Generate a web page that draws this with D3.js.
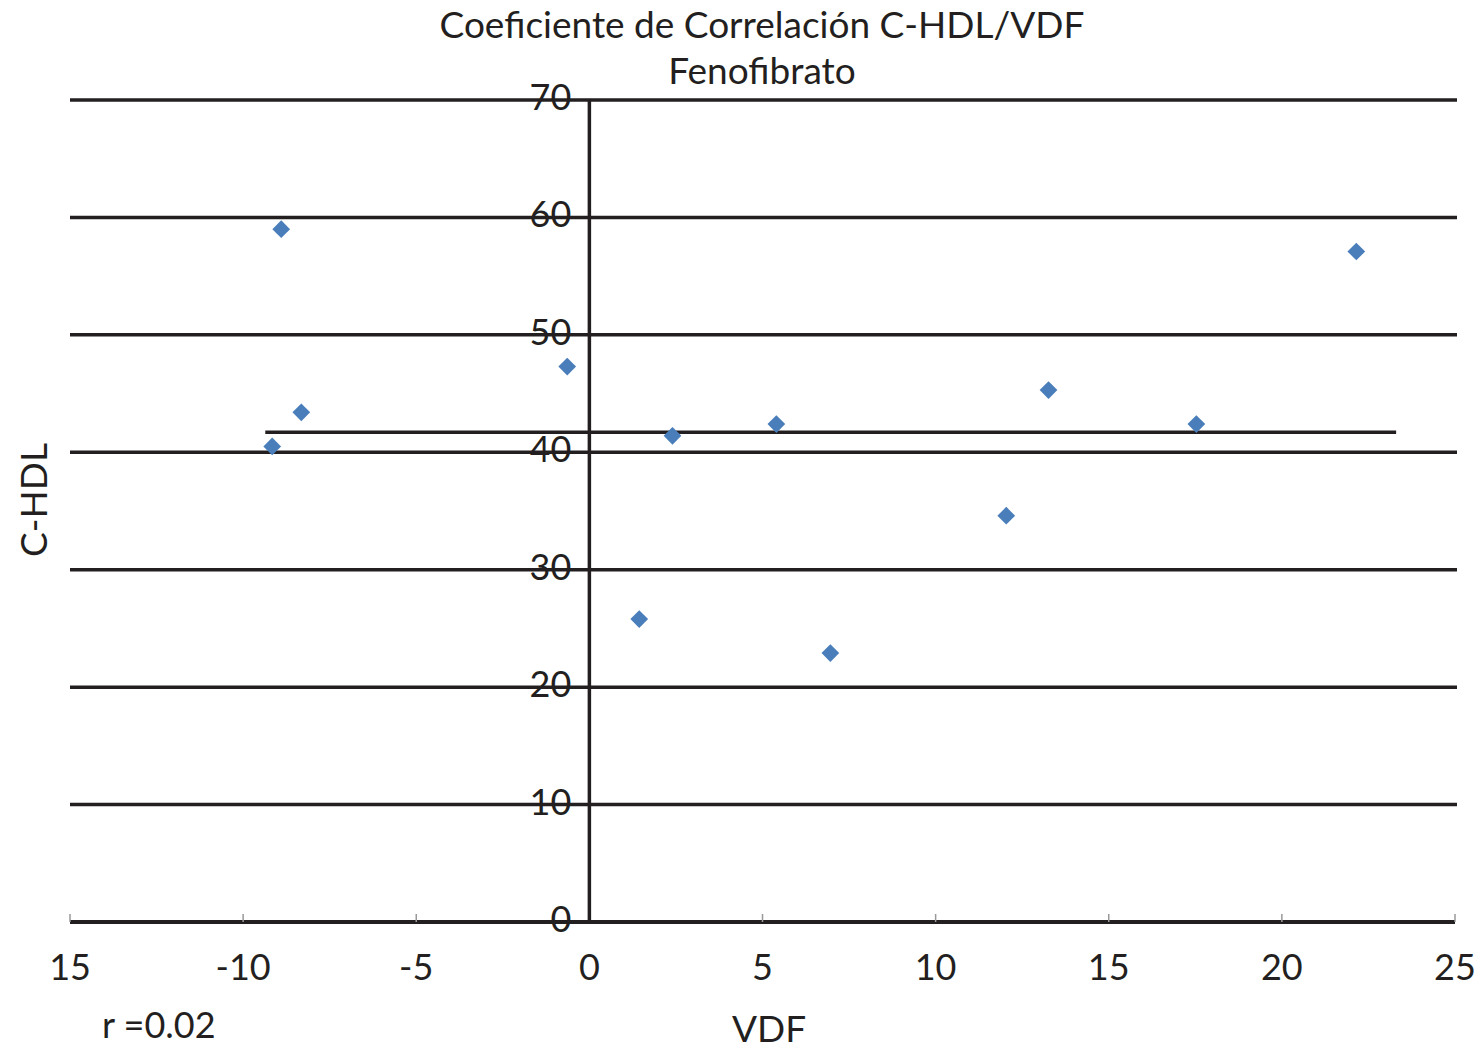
<!DOCTYPE html>
<html>
<head>
<meta charset="utf-8">
<script src="https://cdn.jsdelivr.net/npm/d3@7"></script>
<style>
  body { margin: 0; background: #fff; }
  text { font-family: Lato, "Open Sans", sans-serif; fill: #231f20; }
</style>
</head>
<body>
<svg id="chart" width="1478" height="1053"></svg>
<script>
// data
const vdf  = [-8.9, -8.32, -9.16, -0.64, 2.4, 1.44, 5.4, 6.96, 12.04, 13.26, 17.53, 22.15];
const chdl = [59.0, 43.4, 40.5, 47.3, 41.4, 25.8, 42.4, 22.9, 34.6, 45.3, 42.4, 57.1];
const xTicks = [-15, -10, -5, 0, 5, 10, 15, 20, 25];
const xTickLabels = ['15', '-10', '-5', '0', '5', '10', '15', '20', '25'];
const yTicks = [0, 10, 20, 30, 40, 50, 60, 70];
const trendX = [-9.36, 23.3];
const trendY = [41.7, 41.7];

const margin = { top: 100, right: 21, bottom: 131, left: 70 };
const width = 1478 - margin.left - margin.right;
const height = 1053 - margin.top - margin.bottom;

const svg = d3.select('#chart');
const g = svg.append('g').attr('transform', `translate(${margin.left},${margin.top})`);

const x = d3.scaleLinear().domain([-15, 25]).range([0, width - 2]);
const y = d3.scaleLinear().domain([0, 70]).range([height, 0]);

// y labels (sit under the lines)
g.selectAll('.ylab').data(yTicks).enter().append('text')
  .attr('x', x(0) - 18)
  .attr('y', d => y(d) + 10)
  .attr('text-anchor', 'end')
  .attr('font-size', 36)
  .text(d => d);

// gridlines
g.selectAll('.grid').data(yTicks.filter(d => d > 0)).enter().append('line')
  .attr('x1', 0).attr('x2', width)
  .attr('y1', d => y(d)).attr('y2', d => y(d))
  .attr('stroke', '#231f20').attr('stroke-width', 3.5);

// x axis
g.append('line')
  .attr('x1', 0).attr('x2', x(25))
  .attr('y1', y(0)).attr('y2', y(0))
  .attr('stroke', '#231f20').attr('stroke-width', 4);

g.selectAll('.xtick').data(xTicks).enter().append('line')
  .attr('x1', d => x(d)).attr('x2', d => x(d))
  .attr('y1', y(0) - 8).attr('y2', y(0))
  .attr('stroke', '#999').attr('stroke-width', 1.5);

g.selectAll('.xlab').data(xTicks).enter().append('text')
  .attr('x', d => x(d))
  .attr('y', y(0) + 58)
  .attr('text-anchor', 'middle')
  .attr('font-size', 36)
  .text((d, i) => xTickLabels[i]);

// y axis at x = 0
g.append('line')
  .attr('x1', x(0)).attr('x2', x(0))
  .attr('y1', 0).attr('y2', y(0))
  .attr('stroke', '#231f20').attr('stroke-width', 3.5);

// trend line
g.append('line')
  .attr('x1', x(trendX[0])).attr('x2', x(trendX[1]))
  .attr('y1', y(trendY[0])).attr('y2', y(trendY[1]))
  .attr('stroke', '#231f20').attr('stroke-width', 3.5);

// points
const diamond = d3.symbol().type(d3.symbolDiamond2).size(200);
g.selectAll('.pt').data(vdf).enter().append('path')
  .attr('d', diamond)
  .attr('transform', (d, i) => `translate(${x(d)},${y(chdl[i])})`)
  .attr('fill', '#4a7ebb');

// titles
svg.append('text').attr('x', 762).attr('y', 38).attr('text-anchor', 'middle')
  .attr('font-size', 37).text('Coeficiente de Correlación C-HDL/VDF');
svg.append('text').attr('x', 762).attr('y', 84).attr('text-anchor', 'middle')
  .attr('font-size', 37).text('Fenofibrato');

svg.append('text').attr('x', 769).attr('y', 1042).attr('text-anchor', 'middle')
  .attr('font-size', 37).text('VDF');
svg.append('text').attr('x', 102).attr('y', 1038)
  .attr('font-size', 36).text('r =0.02');
svg.append('text')
  .attr('transform', 'translate(47,500) rotate(-90)')
  .attr('text-anchor', 'middle')
  .attr('font-size', 37).text('C-HDL');
</script>
</body>
</html>
